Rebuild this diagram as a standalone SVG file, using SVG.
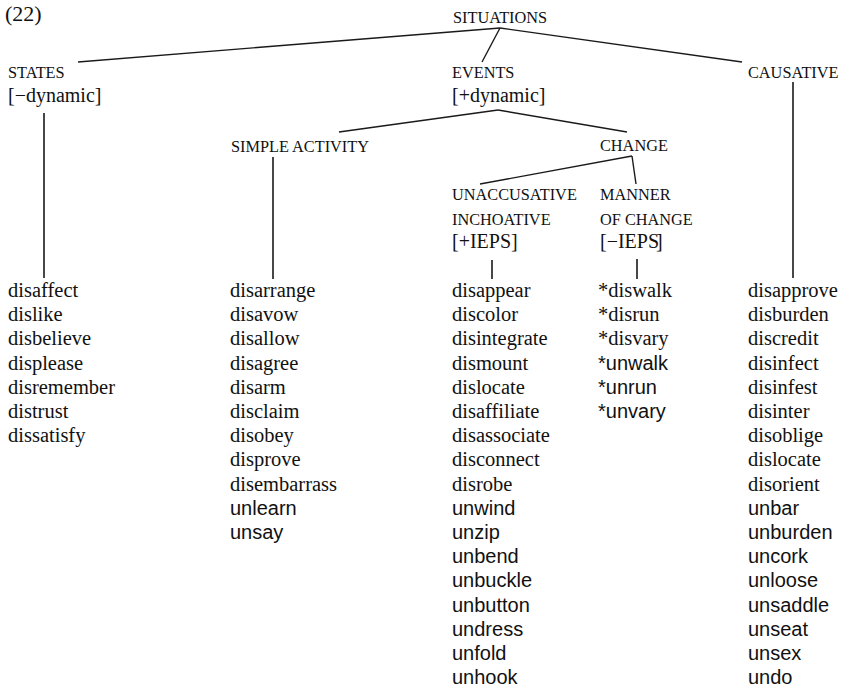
<svg xmlns="http://www.w3.org/2000/svg" width="846" height="690" viewBox="0 0 846 690">
  <style>
    text { fill: #111; }
    .sc { font-family: "Liberation Serif", "Times New Roman", serif; font-size: 16.3px; }
    .ft { font-family: "Liberation Serif", "Times New Roman", serif; font-size: 20px; }
    .w  { font-family: "Liberation Serif", "Times New Roman", serif; font-size: 20.5px; }
    .u  { font-family: "Liberation Sans", Arial, sans-serif; font-size: 20px; }
    .edge { stroke: #1a1a1a; stroke-width: 1.4; fill: none; }
    .stem { stroke: #333; stroke-width: 1.8; fill: none; }
  </style>
  <rect width="846" height="690" fill="#fff"/>

  <text class="ft" x="5" y="21" style="font-size:22px">(22)</text>

  <!-- connectors -->
  <g id="connectors">
    <line class="edge" x1="500" y1="28" x2="78" y2="62"/>
    <line class="edge" x1="500" y1="28" x2="482" y2="62"/>
    <line class="edge" x1="500" y1="28" x2="742" y2="62"/>
    <line class="edge" x1="498" y1="110" x2="339" y2="132"/>
    <line class="edge" x1="498" y1="110" x2="627" y2="132"/>
    <line class="edge" x1="632" y1="156" x2="480" y2="184"/>
    <line class="edge" x1="632" y1="156" x2="636" y2="184"/>
    <line class="stem" x1="44" y1="113" x2="44" y2="278"/>
    <line class="stem" x1="273" y1="157" x2="273" y2="279"/>
    <line class="stem" x1="492" y1="260" x2="492" y2="279"/>
    <line class="stem" x1="637" y1="259" x2="637" y2="279"/>
    <line class="stem" x1="793" y1="82" x2="793" y2="278"/>
  </g>

  <g id="situations">
    <text class="sc" x="453" y="23">SITUATIONS</text>
  </g>

  <g id="states">
    <text class="sc" x="8" y="78">STATES</text>
    <text class="ft" x="8" y="102">[−dynamic]</text>
  </g>

  <g id="events">
    <text class="sc" x="452" y="78">EVENTS</text>
    <text class="ft" x="452" y="102">[+dynamic]</text>
  </g>

  <g id="causative">
    <text class="sc" x="748" y="78">CAUSATIVE</text>
  </g>

  <g id="simple-activity">
    <text class="sc" x="231" y="152">SIMPLE ACTIVITY</text>
  </g>

  <g id="change">
    <text class="sc" x="600" y="151">CHANGE</text>
  </g>

  <g id="unaccusative">
    <text class="sc" x="452" y="200">UNACCUSATIVE</text>
    <text class="sc" x="452" y="225">INCHOATIVE</text>
    <text class="ft" x="452" y="248">[+IEPS]</text>
  </g>

  <g id="manner">
    <text class="sc" x="600" y="200">MANNER</text>
    <text class="sc" x="600" y="225">OF CHANGE</text>
    <text class="ft" x="600" y="248">[−IEPS<tspan dx="-3">]</tspan></text>
  </g>

  <!-- word lists -->
  <g id="list-states">
    <text class="w" x="8" y="297">disaffect</text>
    <text class="w" x="8" y="321.2">dislike</text>
    <text class="w" x="8" y="345.4">disbelieve</text>
    <text class="w" x="8" y="369.6">displease</text>
    <text class="w" x="8" y="393.8">disremember</text>
    <text class="w" x="8" y="418">distrust</text>
    <text class="w" x="8" y="442.2">dissatisfy</text>
  </g>

  <g id="list-activity">
    <text class="w" x="230" y="297">disarrange</text>
    <text class="w" x="230" y="321.2">disavow</text>
    <text class="w" x="230" y="345.4">disallow</text>
    <text class="w" x="230" y="369.6">disagree</text>
    <text class="w" x="230" y="393.8">disarm</text>
    <text class="w" x="230" y="418">disclaim</text>
    <text class="w" x="230" y="442.2">disobey</text>
    <text class="w" x="230" y="466.4">disprove</text>
    <text class="w" x="230" y="490.6">disembarrass</text>
    <text class="u" x="230" y="514.8">unlearn</text>
    <text class="u" x="230" y="539">unsay</text>
  </g>

  <g id="list-inchoative">
    <text class="w" x="452" y="297">disappear</text>
    <text class="w" x="452" y="321.2">discolor</text>
    <text class="w" x="452" y="345.4">disintegrate</text>
    <text class="w" x="452" y="369.6">dismount</text>
    <text class="w" x="452" y="393.8">dislocate</text>
    <text class="w" x="452" y="418">disaffiliate</text>
    <text class="w" x="452" y="442.2">disassociate</text>
    <text class="w" x="452" y="466.4">disconnect</text>
    <text class="w" x="452" y="490.6">disrobe</text>
    <text class="u" x="452" y="514.8">unwind</text>
    <text class="u" x="452" y="539">unzip</text>
    <text class="u" x="452" y="563.2">unbend</text>
    <text class="u" x="452" y="587.4">unbuckle</text>
    <text class="u" x="452" y="611.6">unbutton</text>
    <text class="u" x="452" y="635.8">undress</text>
    <text class="u" x="452" y="660">unfold</text>
    <text class="u" x="452" y="684.2">unhook</text>
  </g>

  <g id="list-manner">
    <text class="w" x="598" y="297">*diswalk</text>
    <text class="w" x="598" y="321.2">*disrun</text>
    <text class="w" x="598" y="345.4">*disvary</text>
    <text class="u" x="598" y="369.6">*unwalk</text>
    <text class="u" x="598" y="393.8">*unrun</text>
    <text class="u" x="598" y="418">*unvary</text>
  </g>

  <g id="list-causative">
    <text class="w" x="748" y="297">disapprove</text>
    <text class="w" x="748" y="321.2">disburden</text>
    <text class="w" x="748" y="345.4">discredit</text>
    <text class="w" x="748" y="369.6">disinfect</text>
    <text class="w" x="748" y="393.8">disinfest</text>
    <text class="w" x="748" y="418">disinter</text>
    <text class="w" x="748" y="442.2">disoblige</text>
    <text class="w" x="748" y="466.4">dislocate</text>
    <text class="w" x="748" y="490.6">disorient</text>
    <text class="u" x="748" y="514.8">unbar</text>
    <text class="u" x="748" y="539">unburden</text>
    <text class="u" x="748" y="563.2">uncork</text>
    <text class="u" x="748" y="587.4">unloose</text>
    <text class="u" x="748" y="611.6">unsaddle</text>
    <text class="u" x="748" y="635.8">unseat</text>
    <text class="u" x="748" y="660">unsex</text>
    <text class="u" x="748" y="684.2">undo</text>
  </g>
</svg>
